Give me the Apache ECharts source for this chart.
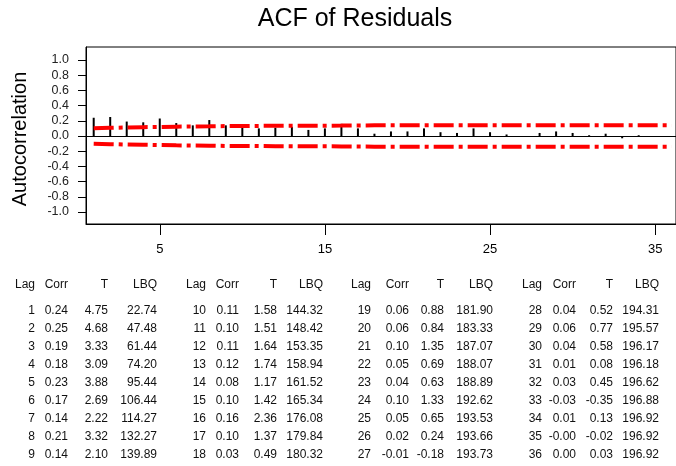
<!DOCTYPE html>
<html>
<head>
<meta charset="utf-8">
<script src="https://cdn.jsdelivr.net/npm/echarts@6/dist/echarts.min.js"></script>
<style>
html,body{margin:0;padding:0;background:#fff;}
#chart{width:676px;height:466px;}
</style>
</head>
<body>
<div id="chart"></div>
<script>
const lags = [1,2,3,4,5,6,7,8,9,10,11,12,13,14,15,16,17,18,19,20,21,22,23,24,25,26,27,28,29,30,31,32,33,34,35,36];
const corr = [0.24,0.25,0.19,0.18,0.23,0.17,0.14,0.21,0.14,0.11,0.10,0.11,0.12,0.08,0.10,0.16,0.10,0.03,
              0.06,0.06,0.10,0.05,0.04,0.10,0.05,0.02,-0.01,0.04,0.06,0.04,0.01,0.03,-0.03,0.01,-0.00,0.00];
const tStat = ["4.75","4.68","3.33","3.09","3.88","2.69","2.22","3.32","2.10","1.58","1.51","1.64","1.74","1.17","1.42","2.36","1.37","0.49",
               "0.88","0.84","1.35","0.69","0.63","1.33","0.65","0.24","-0.18","0.52","0.77","0.58","0.08","0.45","-0.35","0.13","-0.02","0.03"];
const lbq = ["22.74","47.48","61.44","74.20","95.44","106.44","114.27","132.27","139.89","144.32","148.42","153.35","158.94","161.52","165.34","176.08","179.84","180.32",
             "181.90","183.33","187.07","188.07","188.89","192.62","193.53","193.66","193.73","194.31","195.57","196.17","196.18","196.62","196.88","196.92","196.92","196.92"];
const corrText = ["0.24","0.25","0.19","0.18","0.23","0.17","0.14","0.21","0.14","0.11","0.10","0.11","0.12","0.08","0.10","0.16","0.10","0.03",
                  "0.06","0.06","0.10","0.05","0.04","0.10","0.05","0.02","-0.01","0.04","0.06","0.04","0.01","0.03","-0.03","0.01","-0.00","0.00"];
// approximate 95% limits
const limit = [0.101,0.107,0.113,0.116,0.119,0.123,0.125,0.127,0.131,0.132,0.133,0.134,0.135,0.136,0.136,0.137,0.139,0.140,
               0.140,0.140,0.140,0.141,0.141,0.141,0.142,0.142,0.142,0.142,0.142,0.143,0.143,0.143,0.143,0.143,0.143,0.143];
const yTicks = [-1.0,-0.8,-0.6,-0.4,-0.2,0.0,0.2,0.4,0.6,0.8,1.0];
const xTicks = [5,15,25,35];
const headers = ["Lag","Corr","T","LBQ"];

const FONT = "'Liberation Sans', Arial, sans-serif";
const chart = echarts.init(document.getElementById('chart'), null, {renderer:'canvas'});

const colRight = [[35,68,108,157],[206,239,277,323],[371,409,444,493],[542,576,613,659]];
const headerY = 285, rowY0 = 311, rowStep = 18;
const graphics = [];
graphics.push({type:'text', x:355, y:19.5, style:{text:'ACF of Residuals', font:'25px '+FONT, fill:'#000', align:'center', verticalAlign:'middle'}});
graphics.push({type:'text', x:20, y:139, rotation:Math.PI/2, style:{text:'Autocorrelation', font:'20px '+FONT, fill:'#000', align:'center', verticalAlign:'middle'}});
for (let g=0; g<4; g++){
  for (let c=0;c<4;c++){
    graphics.push({type:'text', x:colRight[g][c], y:headerY, style:{text:headers[c], font:'12px '+FONT, fill:'#111', align:'right', verticalAlign:'middle'}});
  }
  for (let r=0;r<9;r++){
    const i = g*9+r;
    const vals = [String(lags[i]), corrText[i], tStat[i], lbq[i]];
    for (let c=0;c<4;c++){
      graphics.push({type:'text', x:colRight[g][c], y:rowY0+r*rowStep, style:{text:vals[c], font:'12px '+FONT, fill:'#111', align:'right', verticalAlign:'middle'}});
    }
  }
}

const option = {
  animation:false,
  backgroundColor:'#fff',
  grid:{left:86, top:47, right:-2, bottom:242, show:true, borderColor:'#000', borderWidth:1, backgroundColor:'transparent'},
  xAxis:{
    type:'value', min:0.534, max:36.26,
    axisLine:{show:true, onZero:false, lineStyle:{color:'#000', width:1}},
    axisTick:{show:true, length:11, lineStyle:{color:'#000'}, customValues:xTicks},
    axisLabel:{show:true, customValues:xTicks, color:'#000', fontSize:13, fontFamily:FONT, margin:19},
    splitLine:{show:false}
  },
  yAxis:{
    type:'value', min:-1.158, max:1.171,
    axisLine:{show:true, onZero:false, lineStyle:{color:'#000', width:1}},
    axisTick:{show:true, length:8, lineStyle:{color:'#000'}, customValues:yTicks},
    axisLabel:{show:true, customValues:yTicks, color:'#222', fontSize:12.5, fontFamily:FONT, margin:17,
      formatter:v=>Number(v).toFixed(1)},
    splitLine:{show:false}
  },
  series:[
    {type:'bar', data:lags.map((l,i)=>[l,corr[i]]), barWidth:2, itemStyle:{color:'#000'},
     markLine:{silent:true, symbol:'none', label:{show:false}, lineStyle:{color:'#000', width:1, type:'solid'}, data:[{yAxis:0}]}},
    {type:'line', data:lags.map((l,i)=>[l,limit[i]]), symbol:'none', lineStyle:{color:'#ff0000', width:4, type:[20,5,4,5]}},
    {type:'line', data:lags.map((l,i)=>[l,-limit[i]]), symbol:'none', lineStyle:{color:'#ff0000', width:4, type:[20,5,4,5]}}
  ],
  graphic:graphics
};
chart.setOption(option);
</script>
</body>
</html>
